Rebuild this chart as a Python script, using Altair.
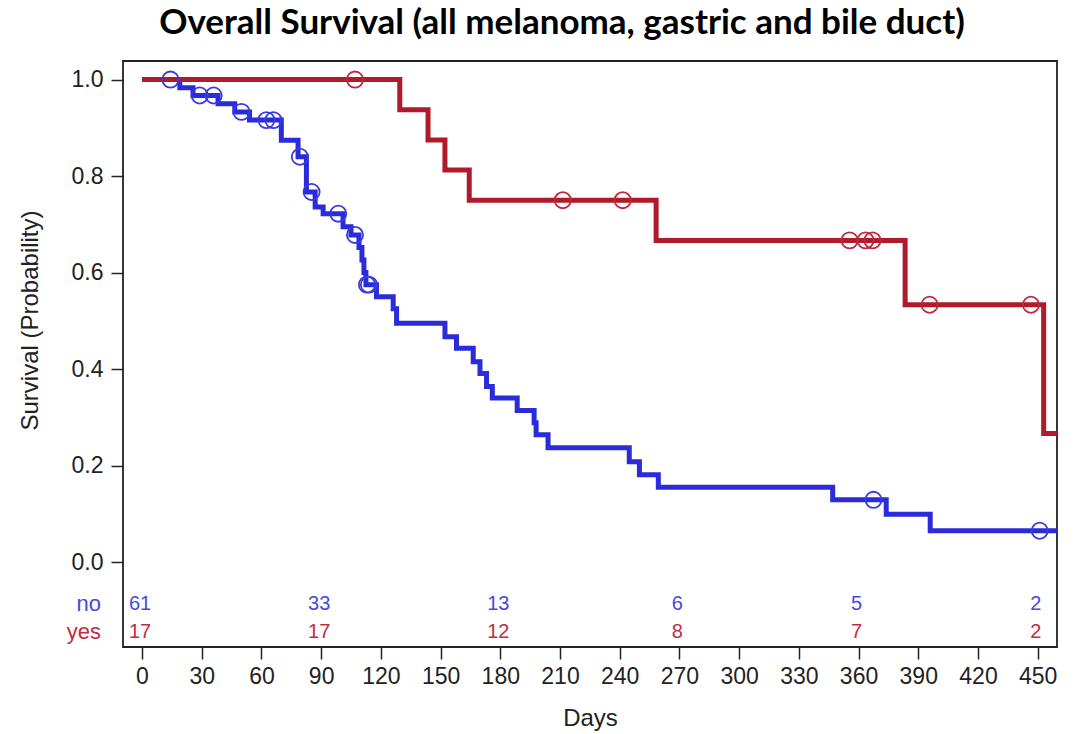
import altair as alt
import pandas as pd

# ---------------- data ----------------
red_t = [0, 129.5, 143.7, 152.2, 164.4, 258.3, 383.4, 453.0, 459.7]
red_s = [1.0, 0.9375, 0.875, 0.8125, 0.75, 0.6667, 0.5333, 0.2667, 0.2667]
red_censor = [107, 211.4, 241.5, 355.5, 363.5, 367, 395.7, 446.6]

blue_t = [0, 19, 25.6, 38.2, 46.6, 54, 70, 78.4, 82.6, 87, 91, 101, 105,
          109, 110.5, 111.5, 112.5, 117.8, 126.2, 127.9, 152.2, 158, 166.4, 169.8,
          173.1, 176, 188.5, 197, 198, 204, 244.8, 249.9, 259.4, 347, 373.9,
          396, 459.7]
blue_s = [1.0, 0.983, 0.967, 0.950, 0.933, 0.916, 0.874, 0.840, 0.767, 0.736,
          0.722, 0.695, 0.678, 0.652, 0.626, 0.600, 0.575, 0.55, 0.525, 0.495,
          0.467, 0.443, 0.415, 0.391, 0.364, 0.34, 0.314, 0.289, 0.264, 0.237,
          0.208, 0.181, 0.155, 0.129, 0.099, 0.065, 0.065]
blue_censor = [14.3, 29, 36, 50, 62.5, 66, 79.3, 85.2, 98.6, 107, 113,
               114, 367.5, 451]

risk_times = [0, 90, 180, 270, 360, 450]
risk_no = [61, 33, 13, 6, 5, 2]
risk_yes = [17, 17, 12, 8, 7, 2]
groups = ["no", "yes"]

x_ticks = [0, 30, 60, 90, 120, 150, 180, 210, 240, 270, 300, 330, 360, 390, 420, 450]
y_ticks = [0.0, 0.2, 0.4, 0.6, 0.8, 1.0]

RED = "#AF1A2D"
BLUE = "#2B2BD9"
RED_TXT = "#C42C3F"
BLUE_TXT = "#4848E0"
INK = "#222222"


def step_at(ts, ss, t):
    idx = max(i for i, tt in enumerate(ts) if tt <= t)
    return ss[idx]


red_df = pd.DataFrame({"t": red_t, "s": red_s})
blue_df = pd.DataFrame({"t": blue_t, "s": blue_s})
red_c = pd.DataFrame({"t": red_censor, "s": [step_at(red_t, red_s, t) for t in red_censor]})
blue_c = pd.DataFrame({"t": blue_censor, "s": [step_at(blue_t, blue_s, t) for t in blue_censor]})

ROW_Y = {"no": -0.086, "yes": -0.145}
risk_df = pd.DataFrame({
    "t": risk_times * 2,
    "n": [str(v) for v in risk_no] + [str(v) for v in risk_yes],
    "g": ["no"] * len(risk_times) + ["yes"] * len(risk_times),
})
risk_df["ry"] = risk_df["g"].map(ROW_Y)
lab_df = pd.DataFrame({"g": groups, "ry": [ROW_Y[g] for g in groups]})

FONT = "Liberation Sans"

xscale = alt.Scale(domain=[-9.55, 459.7], nice=False, zero=False)
yscale = alt.Scale(domain=[-0.176, 1.0385], nice=False, zero=False)

xaxis = alt.Axis(values=x_ticks, title="Days", grid=False, domain=False,
                 labelFont=FONT, labelFontSize=23, labelColor=INK,
                 tickSize=12, tickWidth=1.5, tickColor=INK, labelPadding=6,
                 labelFlush=False, labelOverlap=False,
                 titleFont=FONT, titleFontSize=24, titleFontWeight="normal",
                 titleColor=INK, titleY=71, titleBaseline="middle")
yaxis = alt.Axis(values=y_ticks, format=".1f", title="Survival (Probability)",
                 grid=False, domain=False,
                 labelFont=FONT, labelFontSize=23, labelColor=INK,
                 tickSize=12, tickWidth=1.5, tickColor=INK, labelPadding=8,
                 labelFlush=False, labelOverlap=False,
                 titleFont=FONT, titleFontSize=24, titleFontWeight="normal",
                 titleColor=INK, titleX=-93, titleY=259, titleAngle=270,
                 titleAlign="center", titleBaseline="middle")

X = alt.X("t:Q", scale=xscale, axis=xaxis)
Y = alt.Y("s:Q", scale=yscale, axis=yaxis)

blue_line = alt.Chart(blue_df).mark_line(
    interpolate="step-after", strokeWidth=5, color=BLUE, clip=True,
    strokeCap="butt", strokeJoin="miter").encode(x=X, y=Y)
red_line = alt.Chart(red_df).mark_line(
    interpolate="step-after", strokeWidth=5, color=RED, clip=True,
    strokeCap="butt", strokeJoin="miter").encode(x=X, y=Y)

blue_pts = alt.Chart(blue_c).mark_point(
    shape="circle", filled=False, size=260, strokeWidth=1.8,
    color="#3A3AE0", opacity=1).encode(x=X, y=Y)
red_pts = alt.Chart(red_c).mark_point(
    shape="circle", filled=False, size=260, strokeWidth=1.8,
    color="#C0283C", opacity=1).encode(x=X, y=Y)

risk_txt = alt.Chart(risk_df).mark_text(
    font=FONT, fontSize=20, baseline="middle", align="center", dx=-2).encode(
    x=alt.X("t:Q", scale=xscale),
    y=alt.Y("ry:Q", scale=yscale),
    text="n:N",
    color=alt.Color("g:N", scale=alt.Scale(domain=groups, range=[BLUE_TXT, RED_TXT]), legend=None),
)
row_lab = alt.Chart(lab_df).mark_text(
    font=FONT, fontSize=22, baseline="middle", align="right").encode(
    x=alt.value(-22),
    y=alt.Y("ry:Q", scale=yscale),
    text="g:N",
    color=alt.Color("g:N", scale=alt.Scale(domain=groups, range=[BLUE_TXT, RED_TXT]), legend=None),
)

chart = alt.layer(blue_line, red_line, blue_pts, red_pts, risk_txt, row_lab).properties(
    width=934, height=586,
    padding={"left": 123, "top": 61, "right": 24, "bottom": 87},
    autosize=alt.AutoSizeParams(type="none"),
    title=alt.TitleParams(
        "Overall Survival (all melanoma, gastric and bile duct)",
        font="Lato", fontSize=35, fontWeight="bold", color="#000000",
        anchor="middle", dx=-28, offset=20),
).configure(background="white").configure_view(stroke=INK, strokeWidth=1.8)

chart.save("out.html", embed_options={"renderer": "svg", "actions": False})
